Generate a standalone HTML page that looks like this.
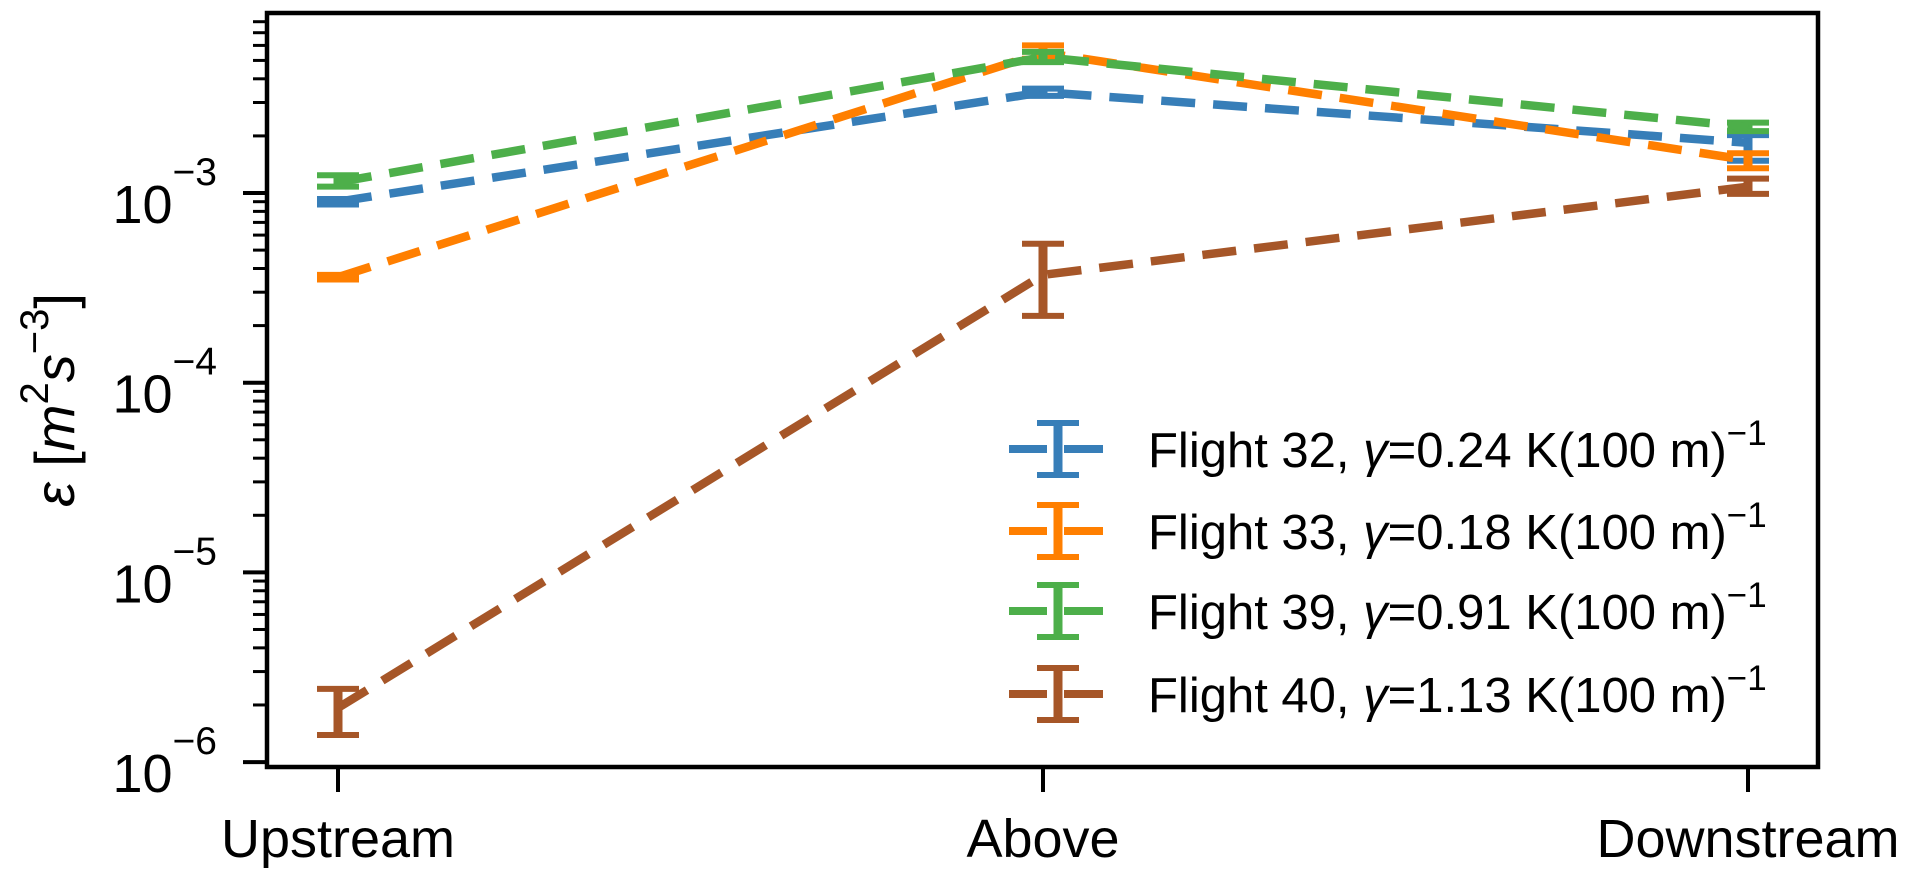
<!DOCTYPE html>
<html><head><meta charset="utf-8"><style>
html,body{margin:0;padding:0;background:#fff;}
svg{display:block;font-family:"Liberation Sans",Arial,sans-serif;}
</style></head><body>
<svg id="chart" width="1915" height="880" viewBox="0 0 1915 880" xmlns="http://www.w3.org/2000/svg"></svg>
<script>
const categories = ["Upstream", "Above", "Downstream"];
const seriesNames = ["Flight 32", "Flight 33", "Flight 39", "Flight 40"];
const seriesGamma = ["0.24", "0.18", "0.91", "1.13"];
const seriesColors = ["#377eb8", "#ff7f00", "#4daf4a", "#a65628"];
const f32 = [9.0e-4, 3.4e-3, 1.84e-3];
const f32Lo = [8.7e-4, 3.25e-3, 1.48e-3];
const f32Hi = [9.3e-4, 3.55e-3, 2.02e-3];
const f33 = [3.6e-4, 5.5e-3, 1.49e-3];
const f33Lo = [3.5e-4, 5.1e-3, 1.35e-3];
const f33Hi = [3.7e-4, 6.0e-3, 1.62e-3];
const f39 = [1.14e-3, 5.2e-3, 2.23e-3];
const f39Lo = [1.08e-3, 4.9e-3, 2.12e-3];
const f39Hi = [1.24e-3, 5.55e-3, 2.35e-3];
const f40 = [1.93e-6, 3.7e-4, 1.08e-3];
const f40Lo = [1.39e-6, 2.25e-4, 0.99e-3];
const f40Hi = [2.43e-6, 5.4e-4, 1.19e-3];
const yTickExps = [-6, -5, -4, -3];

const NS = "http://www.w3.org/2000/svg";
const svg = document.getElementById("chart");
const L = 267, R = 1818, T = 13, B = 767;
const logMin = -6.026, logMax = -2.051;
const catX = [338, 1042, 1748];
function xPos(i){ return catX[0] + (catX[2]-catX[0]) * i / (categories.length - 1); }
function yPos(v){ return B - (Math.log10(v) - logMin) / (logMax - logMin) * (B - T); }
function mk(tag, attrs, parent){
  const e = document.createElementNS(NS, tag);
  for (const k in attrs) e.setAttribute(k, attrs[k]);
  (parent || svg).appendChild(e);
  return e;
}

const yAxis = mk("g", {});


for (let e = -6; e <= -3; e++) {
  for (let m = 1; m <= 9; m++) {
    const v = m * Math.pow(10, e);
    const lg = Math.log10(v);
    if (lg < logMin || lg > logMax) continue;
    const y = yPos(v);
    const len = m === 1 ? 24 : 14;
    const t = mk("line", {x1: L - len, x2: L, y1: y, y2: y, stroke: "#000", "stroke-width": m === 1 ? 4 : 3}, yAxis);
    
    
  }
}
yTickExps.forEach(e => {
  const y = yPos(Math.pow(10, e));
  const tx = mk("text", {x: 217, y: y + 30, "font-size": 54, "text-anchor": "end", fill: "#000"}, yAxis);
  
  
  const a = mk("tspan", {}, tx); a.textContent = "10";
  const b = mk("tspan", {dy: -38, "font-size": 39}, tx); b.textContent = "\u2212" + Math.abs(e);
});

categories.forEach((c, i) => {
  const x = xPos(i);
  const t = mk("line", {x1: x, x2: x, y1: B, y2: B + 25, stroke: "#000", "stroke-width": 4});
  
  
  const tx = mk("text", {x: x, y: 857, "font-size": 54, "text-anchor": "middle", fill: "#000"});
  
  
  tx.textContent = c;
});

const yl = mk("text", {x: 0, y: 0, "font-size": 56, "text-anchor": "middle", fill: "#000", transform: "translate(74,400) rotate(-90)"});


(function(){
  const a = mk("tspan", {"font-style": "italic"}, yl); a.textContent = "\u03b5";
  const b = mk("tspan", {}, yl); b.textContent = " [";
  const c = mk("tspan", {"font-style": "italic"}, yl); c.textContent = "m";
  const d = mk("tspan", {dy: -26, "font-size": 40}, yl); d.textContent = "2";
  const e = mk("tspan", {dy: 26, "font-style": "italic"}, yl); e.textContent = "s";
  const f = mk("tspan", {dy: -26, "font-size": 40}, yl); f.textContent = "\u22123";
  const g = mk("tspan", {dy: 26}, yl); g.textContent = "]";
})();

const allVals = [f32, f33, f39, f40];
const allLo = [f32Lo, f33Lo, f39Lo, f40Lo];
const allHi = [f32Hi, f33Hi, f39Hi, f40Hi];
const seriesKeys = ["flight-32", "flight-33", "flight-39", "flight-40"];
allVals.forEach((vals, s) => {
  const col = seriesColors[s];
  const g = mk("g", {});
  
  
  vals.forEach((v, i) => {
    const x = xPos(i), y1 = yPos(allLo[s][i]), y2 = yPos(allHi[s][i]);
    const eb = mk("line", {x1: x, x2: x, y1: y1, y2: y2, stroke: col, "stroke-width": 9}, g);
    
    
    [y1, y2].forEach(yy => {
      const cap = mk("line", {x1: x - 21, x2: x + 21, y1: yy, y2: yy, stroke: col, "stroke-width": 6}, g);
      
      
    });
  });
  const pts = vals.map((v, i) => xPos(i) + "," + yPos(v)).join(" ");
  const pl = mk("polyline", {points: pts, fill: "none", stroke: col, "stroke-width": 8.5, "stroke-dasharray": "34 18", "stroke-linejoin": "round"}, g);
  
  
});

const fr = mk("rect", {x: L, y: T, width: R - L, height: B - T, fill: "none", stroke: "#000", "stroke-width": 4.5});



const leg = mk("g", {});


const legRows = [449, 531, 611, 694];
seriesNames.forEach((n, s) => {
  const y = legRows[s], col = seriesColors[s];
  const ent = mk("g", {}, leg);
  
  
  mk("line", {x1: 1009, x2: 1047, y1: y, y2: y, stroke: col, "stroke-width": 8}, ent);
  mk("line", {x1: 1064, x2: 1103, y1: y, y2: y, stroke: col, "stroke-width": 8}, ent);
  mk("line", {x1: 1058, x2: 1058, y1: y - 26, y2: y + 26, stroke: col, "stroke-width": 9}, ent);
  mk("line", {x1: 1037, x2: 1079, y1: y - 26, y2: y - 26, stroke: col, "stroke-width": 6}, ent);
  mk("line", {x1: 1037, x2: 1079, y1: y + 26, y2: y + 26, stroke: col, "stroke-width": 6}, ent);
  const tx = mk("text", {x: 1148, y: y + 18, "font-size": 49, fill: "#000"}, ent);
  
  
  const a = mk("tspan", {}, tx); a.textContent = n + ", ";
  const b = mk("tspan", {"font-style": "italic"}, tx); b.textContent = "\u03b3";
  const c = mk("tspan", {}, tx); c.textContent = "=" + seriesGamma[s] + " K(100 m)";
  const d = mk("tspan", {dy: -22, "font-size": 35}, tx); d.textContent = "\u22121";
});
</script>
</body></html>
